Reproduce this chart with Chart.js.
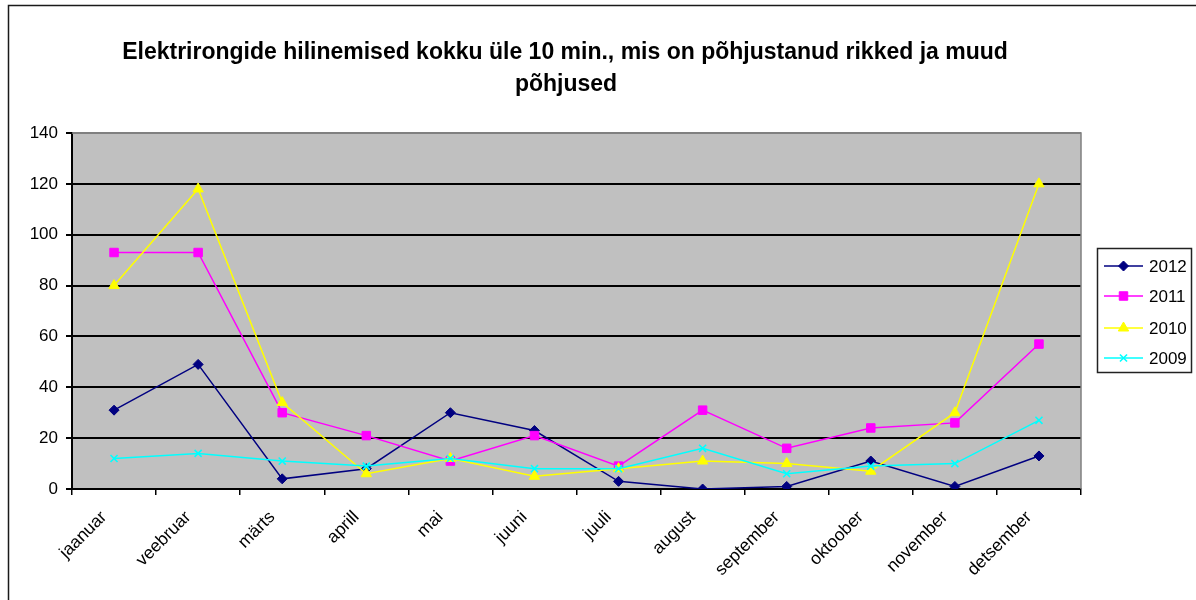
<!DOCTYPE html>
<html><head><meta charset="utf-8">
<script src="https://cdn.jsdelivr.net/npm/chart.js@4/dist/chart.umd.min.js"></script>
<style>html,body{margin:0;padding:0;background:#fff;overflow:hidden}#wrap{width:1196px;height:600px;position:relative}</style>
</head><body><div id="wrap"><canvas id="c" width="1196" height="600"></canvas></div>
<script>
const months = ['jaanuar','veebruar','märts','aprill','mai','juuni','juuli','august','september','oktoober','november','detsember'];
const s2012 = [31,49,4,8,30,23,3,0,1,11,1,13];
const s2011 = [93,93,30,21,11,21,9,31,16,24,26,57];
const s2010 = [80,118,34,6,12,5,8,11,10,7,30,120];
const s2009 = [12,14,11,9,12,8,8,16,6,9,10,27];
const seriesNames = ['2012','2011','2010','2009'];
const titleLines = ['Elektrirongide hilinemised kokku üle 10 min., mis on põhjustanud rikked ja muud','põhjused'];
const yMin = 0, yMax = 140, yStep = 20;

const FONT = '"Liberation Sans", Arial, sans-serif';
Chart.defaults.font.family = FONT;
Chart.defaults.color = '#000';

const styles = [
  {color:'#000080', pointStyle:'rectRot', radius:5, bw:1},
  {color:'#FF00FF', pointStyle:'rect', radius:6, bw:1},
  {color:'#FFFF00', pointStyle:'triangle', radius:6, bw:1},
  {color:'#00FFFF', pointStyle:'crossRot', radius:5, bw:1.6}
];
const allData = [s2012, s2011, s2010, s2009];

const datasets = allData.map((d,i)=>({
  label: seriesNames[i],
  data: d,
  borderColor: styles[i].color,
  backgroundColor: styles[i].color,
  pointBackgroundColor: styles[i].color,
  pointBorderColor: styles[i].color,
  pointStyle: styles[i].pointStyle,
  pointRadius: styles[i].radius,
  pointBorderWidth: styles[i].bw,
  pointHoverRadius: styles[i].radius,
  borderWidth: 1.5,
  tension: 0,
  fill: false,
  order: 3 - i
}));

const decor = {
  id:'decor',
  beforeDraw(chart){
    const ctx = chart.ctx, a = chart.chartArea;
    ctx.save();
    ctx.fillStyle = '#fff';
    ctx.fillRect(0,0,chart.width,chart.height);
    ctx.strokeStyle = '#1a1a1a'; ctx.lineWidth = 1.5;
    ctx.beginPath();
    ctx.moveTo(8.5, 620); ctx.lineTo(8.5, 5.5); ctx.lineTo(1220, 5.5);
    ctx.stroke();
    ctx.fillStyle = '#C0C0C0';
    ctx.fillRect(a.left, a.top, a.right - a.left, a.bottom - a.top);
    ctx.restore();
  },
  beforeDatasetsDraw(chart){
    const ctx = chart.ctx, a = chart.chartArea;
    ctx.save();
    ctx.strokeStyle = '#808080'; ctx.lineWidth = 1.5;
    ctx.beginPath();
    ctx.moveTo(a.left, a.top); ctx.lineTo(a.right, a.top); ctx.lineTo(a.right, a.bottom);
    ctx.stroke();
    ctx.restore();
  },
  afterDraw(chart){
    const ctx = chart.ctx;
    ctx.save();
    ctx.fillStyle = '#000';
    ctx.font = 'bold 23px ' + FONT;
    ctx.textAlign = 'center'; ctx.textBaseline = 'alphabetic';
    ctx.fillText(titleLines[0], 565, 59);
    ctx.fillText(titleLines[1], 566, 91);
    const lx = 1097, ly = 248, lw = 94, lh = 124;
    ctx.strokeStyle = '#222'; ctx.lineWidth = 1.5;
    ctx.strokeRect(lx + 0.5, ly + 0.5, lw, lh);
    const rows = [266, 296, 328, 358];
    ctx.font = '17px ' + FONT;
    ctx.textAlign = 'left'; ctx.textBaseline = 'middle';
    chart.data.datasets.forEach((ds, i) => {
      const y = rows[i];
      ctx.strokeStyle = ds.borderColor; ctx.lineWidth = 1.5;
      ctx.beginPath(); ctx.moveTo(1104, y); ctx.lineTo(1143, y); ctx.stroke();
      ctx.fillStyle = ds.pointBackgroundColor; ctx.strokeStyle = ds.pointBorderColor;
      ctx.lineWidth = ds.pointBorderWidth;
      Chart.helpers.drawPoint(ctx, {pointStyle: ds.pointStyle, radius: ds.pointRadius, rotation: 0, borderWidth: ds.pointBorderWidth}, 1123.5, y);
      ctx.fillStyle = '#000';
      ctx.fillText(ds.label, 1149, y + 1);
    });
    ctx.restore();
  }
};

new Chart(document.getElementById('c'), {
  type: 'line',
  data: { labels: months, datasets },
  plugins: [decor],
  options: {
    responsive: false,
    animation: false,
    devicePixelRatio: 1,
    layout: { padding: { left: 0, top: 133, right: 115, bottom: 0 } },
    plugins: { legend: { display: false }, title: { display: false }, tooltip: { enabled: false } },
    scales: {
      x: {
        type: 'category',
        offset: true,
        afterFit(s){ s.height = 111; },
        grid: { offset: true, drawOnChartArea: false, drawTicks: true, tickLength: 6, tickColor: '#000', lineWidth: 1.5 },
        border: { display: true, color: '#000', width: 2 },
        ticks: { font: { size: 17.5 }, color: '#000', minRotation: 45, maxRotation: 45, autoSkip: false, padding: 12, labelOffset: -10 }
      },
      y: {
        min: yMin, max: yMax,
        afterFit(s){ s.width = 72; },
        grid: { color: (c) => (c.tick && c.tick.value === yMax) ? '#808080' : '#000', lineWidth: 2, drawTicks: true, tickLength: 6, tickColor: '#000' },
        border: { display: true, color: '#000', width: 2 },
        ticks: { stepSize: yStep, font: { size: 17 }, color: '#000', padding: 8 }
      }
    }
  }
});
</script>
</body></html>
